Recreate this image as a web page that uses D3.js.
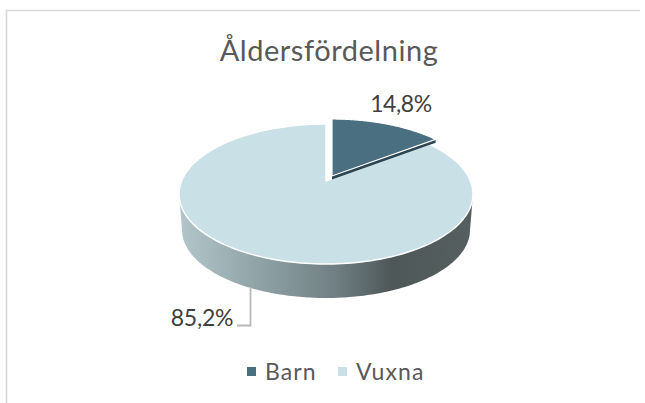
<!DOCTYPE html>
<html><head><meta charset="utf-8">
<script src="https://cdn.jsdelivr.net/npm/d3@7/dist/d3.min.js"></script>
<style>html,body{margin:0;padding:0;background:#fff}svg{display:block}text{font-family:Lato,"Noto Sans",sans-serif}</style>
</head><body><svg id="c" width="645" height="403"></svg>
<script>
const title = "Åldersfördelning";
const categories = ["Barn", "Vuxna"];
const shares = [14.8, 85.2];
const labels = ["14,8%", "85,2%"];
const sliceColors = ["#4a6f81", "#c8e0e6"];

(function () {
const svg = d3.select("#c");
const color = d3.scaleOrdinal(categories, sliceColors);

// frame
svg.append("path").attr("d", "M6.5 403 V10.5 H640").attr("fill", "none").attr("stroke", "#d9d9d9").attr("stroke-width", 1.6);

svg.append("text").attr("x", 329).attr("y", 61).attr("text-anchor", "middle")
  .attr("font-size", 29).attr("letter-spacing", 0.55).attr("fill", "#595959").text(title);

// projection of the tilted disc
const upper = {cx: 326, cy: 194, rx: 147, ry: 70};
const lower = {cx: 326, cy: 230, rx: 144, ry: 68};
const apex = [326, 181];
const warp = a => a - 0.154 * Math.sin(2 * a);
const onRim = (e, a) => { const t = warp(a); return [e.cx + e.rx * Math.sin(t), e.cy - e.ry * Math.cos(t)]; };
const line = d3.line();
const arcPts = (e, a0, a1) => d3.range(0, 121).map(i => onRim(e, a0 + (a1 - a0) * i / 120));

const pie = d3.pie().sort(null).value(d => d);
const arcs = pie(shares);

// side wall gradient
const defs = svg.append("defs");
const grad = defs.append("linearGradient").attr("id", "wall").attr("gradientUnits", "userSpaceOnUse")
  .attr("x1", upper.cx - upper.rx).attr("x2", upper.cx + upper.rx).attr("y1", 0).attr("y2", 0);
[[0, "#b4c6ca"], [0.27, "#8fa3a6"], [0.54, "#6f7e82"], [0.72, "#4f5859"], [1, "#565f60"]]
  .forEach(([o, c]) => grad.append("stop").attr("offset", o).attr("stop-color", c));

const wall = [[upper.cx - upper.rx, upper.cy], ...arcPts(lower, Math.PI * 1.5, Math.PI / 2), [upper.cx + upper.rx, upper.cy]];
svg.append("path").attr("d", line(wall) + "Z").attr("fill", "url(#wall)");

// adults slice
const a = arcs[1];
svg.append("path").attr("d", line([apex, ...arcPts(upper, a.startAngle, a.endAngle)]) + "Z")
  .attr("fill", color(categories[1])).attr("stroke", "#fff").attr("stroke-width", 1.5).attr("stroke-linejoin", "round");

// children slice, pulled out
const b = arcs[0], off = [6, -5];
const bPts = [apex, ...arcPts(upper, b.startAngle, b.endAngle)].map(p => [p[0] + off[0], p[1] + off[1]]);
const last = bPts[bPts.length - 1];
svg.append("path").attr("d", line([[bPts[0][0], bPts[0][1] + 3.5], [last[0], last[1] + 3.5], last, bPts[0]]) + "Z").attr("fill", "#2c4552");
svg.append("path").attr("d", line(bPts) + "Z").attr("fill", color(categories[0])).attr("stroke", "#fff").attr("stroke-width", 1.2);

// data labels
svg.append("text").attr("x", 401).attr("y", 112).attr("text-anchor", "middle").attr("font-size", 23).attr("letter-spacing", -0.4).attr("fill", "#404040").text(labels[0]);
svg.append("text").attr("x", 202).attr("y", 326).attr("text-anchor", "middle").attr("font-size", 23).attr("letter-spacing", -0.2).attr("fill", "#404040").text(labels[1]);
svg.append("path").attr("d", "M250.5 287 V325.5 H237").attr("fill", "none").attr("stroke", "#b8b8b8").attr("stroke-width", 1.8);

// legend
const lx = [247, 338], tx = [265, 356];
categories.forEach((c, i) => {
  svg.append("rect").attr("x", lx[i]).attr("y", 367).attr("width", 9).attr("height", 9).attr("fill", color(c));
  svg.append("text").attr("x", tx[i]).attr("y", 380).attr("font-size", 23).attr("letter-spacing", 1.1).attr("fill", "#595959").text(c);
});
})();
</script></body></html>
